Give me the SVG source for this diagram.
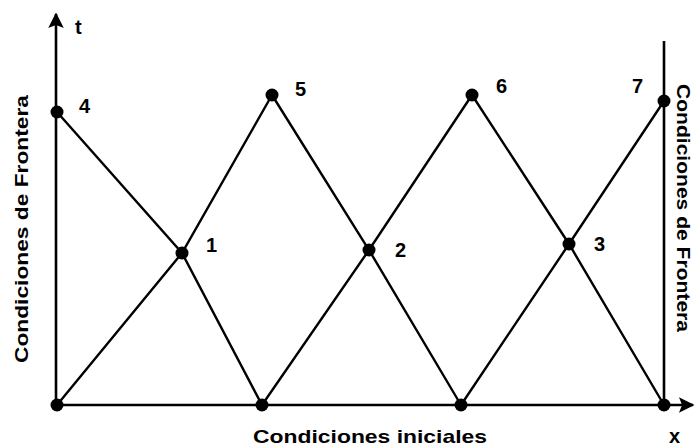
<svg xmlns="http://www.w3.org/2000/svg" width="696" height="448" viewBox="0 0 696 448">
<style>
.ln{stroke:#000;stroke-width:2.4;fill:none;stroke-linecap:round}
.ax{stroke:#000;stroke-width:2.6;fill:none}
.pt{fill:#000}
.lb{font-family:"Liberation Sans",Arial,sans-serif;font-weight:bold;font-size:20px;fill:#000}
.tx{font-family:"Liberation Sans",Arial,sans-serif;font-weight:bold;fill:#000}
</style>
<defs>
<marker id="ah" viewBox="0 0 10 10" refX="9" refY="5" markerWidth="7" markerHeight="6" orient="auto" markerUnits="strokeWidth">
<path d="M0,0 L10,5 L0,10 L2,5 z" fill="#000"/>
</marker>
</defs>
<g id="axes">
<line class="ax" x1="56" y1="405" x2="56" y2="14" marker-end="url(#ah)"/>
<line class="ax" x1="56" y1="405" x2="693" y2="405" marker-end="url(#ah)"/>
<line class="ax" x1="664" y1="405" x2="664" y2="41"/>
</g>
<g id="connectors">
<polyline class="ln" points="57,112 182,253 262,405"/>
<polyline class="ln" points="57,405 182,253 272,95"/>
<polyline class="ln" points="272,95 369,250 461,405"/>
<polyline class="ln" points="262,405 369,250 472,95"/>
<polyline class="ln" points="472,95 569,244 664,405"/>
<polyline class="ln" points="461,405 569,244 664,101"/>
</g>
<g id="n4"><circle class="pt" cx="57" cy="112" r="6.5"/><text class="lb" x="79" y="113">4</text></g>
<g id="n5"><circle class="pt" cx="272" cy="95" r="6.5"/><text class="lb" x="295" y="96">5</text></g>
<g id="n6"><circle class="pt" cx="472" cy="95" r="6.5"/><text class="lb" x="496" y="93">6</text></g>
<g id="n7"><circle class="pt" cx="664" cy="101" r="6.5"/><text class="lb" x="632" y="93">7</text></g>
<g id="n1"><circle class="pt" cx="182" cy="253" r="6.5"/><text class="lb" x="206" y="252">1</text></g>
<g id="n2"><circle class="pt" cx="369" cy="250" r="6.5"/><text class="lb" x="395" y="257">2</text></g>
<g id="n3"><circle class="pt" cx="569" cy="244" r="6.5"/><text class="lb" x="594" y="251">3</text></g>
<g id="b0"><circle class="pt" cx="57" cy="405" r="6.5"/></g>
<g id="b1"><circle class="pt" cx="262" cy="405" r="6.5"/></g>
<g id="b2"><circle class="pt" cx="461" cy="405" r="6.5"/></g>
<g id="b3"><circle class="pt" cx="664" cy="405" r="6.5"/></g>
<g id="labels">
<text class="lb" x="75" y="34">t</text>
<text class="lb" x="669" y="443">x</text>
<text class="tx" x="370" y="443" font-size="19" text-anchor="middle" textLength="234" lengthAdjust="spacingAndGlyphs">Condiciones iniciales</text>
<text class="tx" font-size="18" text-anchor="middle" textLength="268" lengthAdjust="spacingAndGlyphs" transform="translate(28,229) rotate(-90)">Condiciones de Frontera</text>
<text class="tx" font-size="18" textLength="248" lengthAdjust="spacingAndGlyphs" transform="translate(677,84) rotate(90)">Condiciones de Frontera</text>
</g>
</svg>
